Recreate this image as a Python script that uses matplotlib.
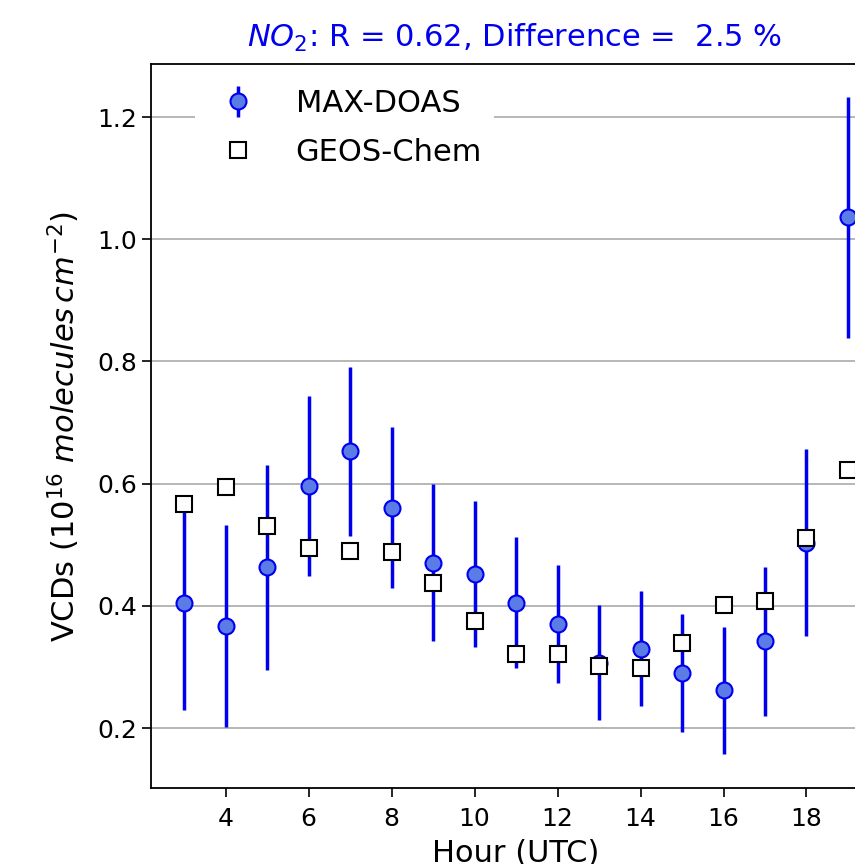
import numpy as np
import matplotlib.pyplot as plt

hours = [3, 4, 5, 6, 7, 8, 9, 10, 11, 12, 13, 14, 15, 16, 17, 18, 19]
doas = [0.405, 0.367, 0.463, 0.596, 0.653, 0.561, 0.471, 0.452, 0.405, 0.370,
        0.307, 0.330, 0.290, 0.262, 0.342, 0.503, 1.036]
doas_err = [0.175, 0.166, 0.168, 0.147, 0.138, 0.131, 0.128, 0.120, 0.107, 0.097,
            0.094, 0.094, 0.097, 0.104, 0.122, 0.153, 0.197]
geos = [0.567, 0.595, 0.531, 0.495, 0.490, 0.488, 0.437, 0.375, 0.322, 0.321,
        0.301, 0.298, 0.340, 0.402, 0.408, 0.511, 0.622]
yticks = [0.2, 0.4, 0.6, 0.8, 1.0, 1.2]
xticks = [4, 6, 8, 10, 12, 14, 16, 18]

fig = plt.figure(figsize=(8.55, 8.64), dpi=100)
ax = fig.add_axes([0.1766, 0.088, 0.854, 0.838])

eb = ax.errorbar(hours, doas, yerr=doas_err, fmt='o', color='#0000ee', ecolor='#0000ee',
                 elinewidth=2.5, markersize=11.5, markerfacecolor='#5b7be6',
                 markeredgecolor='#0000ee', markeredgewidth=1.5, label='MAX-DOAS', zorder=3)
sq, = ax.plot(hours, geos, 's', markersize=11, markerfacecolor='white',
              markeredgecolor='black', markeredgewidth=1.5, label='GEOS-Chem', zorder=4)

ax.set_xlim(2.2, 19.8)
ax.set_ylim(0.102, 1.287)
ax.set_xticks(xticks)
ax.set_yticks(yticks)
ax.yaxis.grid(True, color='#aaaaaa', linewidth=1.2)
ax.set_axisbelow(True)
ax.tick_params(labelsize=18, length=6.5, width=1.2)
ax.tick_params(axis='x', pad=7)
for s in ax.spines.values():
    s.set_linewidth(1.3)

ax.set_xlabel('Hour (UTC)', fontsize=22, labelpad=6)
ax.set_ylabel(r'VCDs ($10^{16}$ $molecules\,cm^{-2}$)', fontsize=22, labelpad=11)
fig.text(0.602, 0.956, r'$NO_2$: R = 0.62, Difference =  2.5 %', color='#0000ee',
         fontsize=22, ha='center', va='center')

leg = ax.legend([eb, sq], ['MAX-DOAS', 'GEOS-Chem'], loc='upper left',
                bbox_to_anchor=(0.06, 0.982), borderaxespad=0, fontsize=22,
                frameon=True, framealpha=1, edgecolor='none', handletextpad=0.9,
                labelspacing=0.65)

fig.savefig('out.png', dpi=100)
